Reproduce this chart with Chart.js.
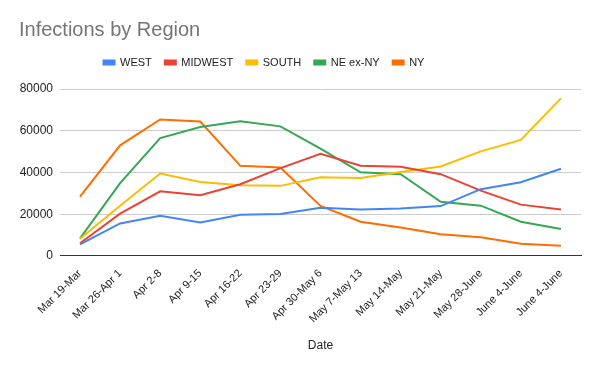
<!DOCTYPE html>
<html>
<head>
<meta charset="utf-8">
<script src="https://cdn.jsdelivr.net/npm/chart.js@4"></script>
<style>
  html, body { margin: 0; padding: 0; background: #fff; }
</style>
</head>
<body>
<canvas id="chart" width="600" height="371"></canvas>
<script>
// values
var dates = ["Mar 19-Mar", "Mar 26-Apr 1", "Apr 2-8", "Apr 9-15", "Apr 16-22", "Apr 23-29",
  "Apr 30-May 6", "May 7-May 13", "May 14-May", "May 21-May", "May 28-June", "June 4-June", "June 4-June"];
var west = [5600, 15600, 19300, 16100, 19800, 20100, 23100, 22300, 22700, 23900, 32000, 35300, 41800];
var midwest = [6100, 20300, 31000, 29100, 34400, 42100, 49000, 43200, 42700, 39200, 31300, 24600, 22300];
var south = [8300, 24100, 39500, 35500, 33900, 33600, 37700, 37400, 40200, 42900, 50100, 55600, 75500];
var neExNy = [8400, 34900, 56500, 61800, 64600, 62100, 51400, 40100, 39200, 26000, 24100, 16400, 12900];
var ny = [28400, 53000, 65400, 64400, 43200, 42400, 24000, 16400, 13600, 10400, 9000, 5900, 4900];
var yTicks = [0, 20000, 40000, 60000, 80000];

var fontFam = "Arial, 'Liberation Sans', sans-serif";

function series(label, data, color) {
  return {
    label: label,
    data: data,
    borderColor: color,
    backgroundColor: color,
    borderWidth: 2,
    pointRadius: 0,
    tension: 0,
    fill: false
  };
}

// push the plot down a little below the legend, and nudge the legend left
var legendTweak = {
  id: 'legendTweak',
  beforeInit: function (chart) {
    var fit = chart.legend.fit;
    chart.legend.fit = function () {
      fit.bind(chart.legend)();
      this.height += 11;
    };
  },
  afterLayout: function (chart) {
    chart.legend.left -= 36;
    chart.legend.right -= 36;
  }
};

var ctx = document.getElementById("chart");
var chart = new Chart(ctx, {
  type: 'line',
  data: {
    labels: dates,
    datasets: [
      series('WEST', west, '#4285F4'),
      series('MIDWEST', midwest, '#EA4335'),
      series('SOUTH', south, '#FBBC04'),
      series('NE ex-NY', neExNy, '#34A853'),
      series('NY', ny, '#FF6D01')
    ]
  },
  plugins: [legendTweak],
  options: {
    responsive: false,
    animation: false,
    layout: { padding: { left: 19, right: 19, top: 18, bottom: 14 } },
    scales: {
      x: {
        offset: true,
        grid: { display: false },
        border: { display: true, color: '#333333', width: 1 },
        afterFit: function (scale) {
          // rotated labels fit fine, don't let them squeeze the plot
          scale.paddingLeft = 0;
          scale.paddingRight = 0;
        },
        ticks: {
          autoSkip: false,
          maxRotation: 45,
          minRotation: 45,
          color: '#222222',
          font: { family: fontFam, size: 11 }
        },
        title: {
          display: true,
          text: 'Date',
          color: '#222222',
          font: { family: fontFam, size: 12 },
          padding: { top: 10 }
        }
      },
      y: {
        min: 0,
        max: 80000,
        afterBuildTicks: function (scale) {
          scale.ticks = yTicks.map(function (v) { return { value: v }; });
        },
        afterFit: function (scale) {
          scale.width = 41;
        },
        grid: { color: '#cccccc', drawTicks: false },
        border: { display: false },
        ticks: {
          padding: 7,
          color: '#222222',
          font: { family: fontFam, size: 12 },
          callback: function (v) { return String(v); }
        }
      }
    },
    plugins: {
      title: {
        display: true,
        text: 'Infections by Region',
        align: 'start',
        color: '#757575',
        font: { family: fontFam, size: 20, weight: 'normal' },
        padding: { top: 0, bottom: 2 }
      },
      legend: {
        display: true,
        position: 'top',
        labels: {
          boxWidth: 11,
          boxHeight: 4,
          padding: 13,
          color: '#222222',
          font: { family: fontFam, size: 11 }
        }
      },
      tooltip: { enabled: false }
    }
  }
});
</script>
</body>
</html>
